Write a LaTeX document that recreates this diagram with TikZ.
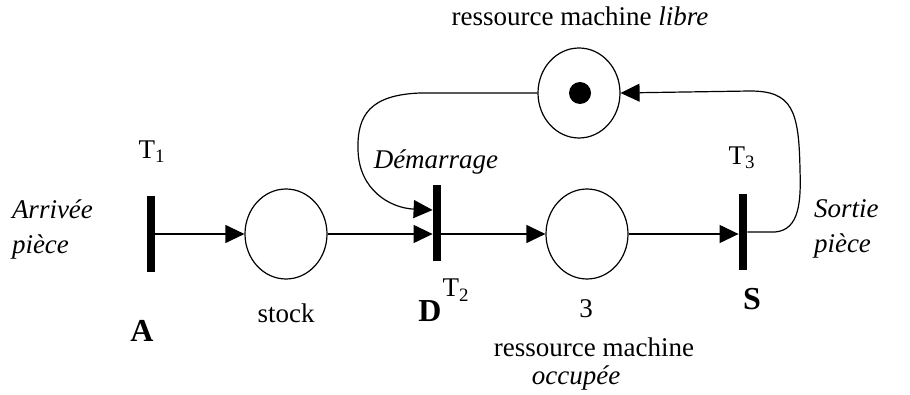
\documentclass[tikz,border=0pt]{standalone}
\usepackage{fontspec}
\setmainfont{Liberation Serif}
\usetikzlibrary{arrows.meta,shapes.geometric}
\tikzstyle{place} = [ellipse, draw, line width=0.6pt, minimum width=41pt,
                 minimum height=45pt, inner sep=0pt]
\tikzstyle{trans} = [rectangle, fill=black, minimum width=4pt,
                 minimum height=38pt, inner sep=0pt]
\tikzstyle{flow} = [line width=0.6pt, -{Triangle[length=9.5pt,width=9pt]}]
\tikzstyle{lbl} = [inner sep=0pt, font=\fontsize{13.5}{17.5}\selectfont]
\tikzstyle{big} = [inner sep=0pt, font=\fontsize{16}{18}\selectfont\bfseries]

\begin{document}
\begin{tikzpicture}[x=0.5pt,y=-0.5pt]
\useasboundingbox (0,0) rectangle (910,395);

% transitions
\node [trans] at (151,234) (t1) {};
\node [trans] at (437,223) (t2) {};
\node [trans] at (743,232) (t3) {};

% places
\node [place] at (286,234) (stock) {};
\node [place] at (587,234) (occ) {};
\node [place] at (579,93) (libre) {};
\node [circle, fill=black, minimum size=11pt, inner sep=0pt] at (580,93) (token) {};

% arcs
\draw[flow] (t1) -- (stock);
\draw[flow] (stock.east) -- (stock.east -| t2.west);
\draw[flow] (t2.east |- occ.west) -- (occ.west);
\draw[flow] (occ.east) -- (occ.east -| t3.west);
\draw[flow] (libre.west) -- (420,93) .. controls (370,95) and (357,115) .. (358,150)
	.. controls (359,190) and (390,208) .. ([yshift=6.5pt]t2.west);
\draw[flow] (t3.east) -- (775,232) .. controls (800,230) and (801,200) .. (800,170)
	.. controls (799,110) and (792,91) .. (750,91) -- (libre.east);

% labels
\node [lbl] at (580,16) (tlibre) {ressource machine \textit{libre}};
\node [lbl] at (152,152) (lt1) {T\textsubscript{1}};
\node [lbl, align=left, text width=55pt] at (67,229) (arr) {\textit{Arrivée}\\\textit{pièce}};
\node [lbl] at (286,313) (lstock) {stock};
\node [big] at (142,331) (la) {A};
\node [lbl] at (436,162) (dem) {\textit{Démarrage}};
\node [lbl] at (456,290) (lt2) {T\textsubscript{2}};
\node [big] at (430,311) (ld) {D};
\node [lbl] at (586,309) (l3) {3};
\node [lbl] at (594,347) (rm) {ressource machine};
\node [lbl] at (576,378) (occl) {\textit{occupée}};
\node [lbl] at (742,158) (lt3) {T\textsubscript{3}};
\node [big] at (752,299) (ls) {S};
\node [lbl, align=left, text width=45pt] at (859,229) (sort) {\textit{Sortie}\\\textit{pièce}};

\end{tikzpicture}
\end{document}
